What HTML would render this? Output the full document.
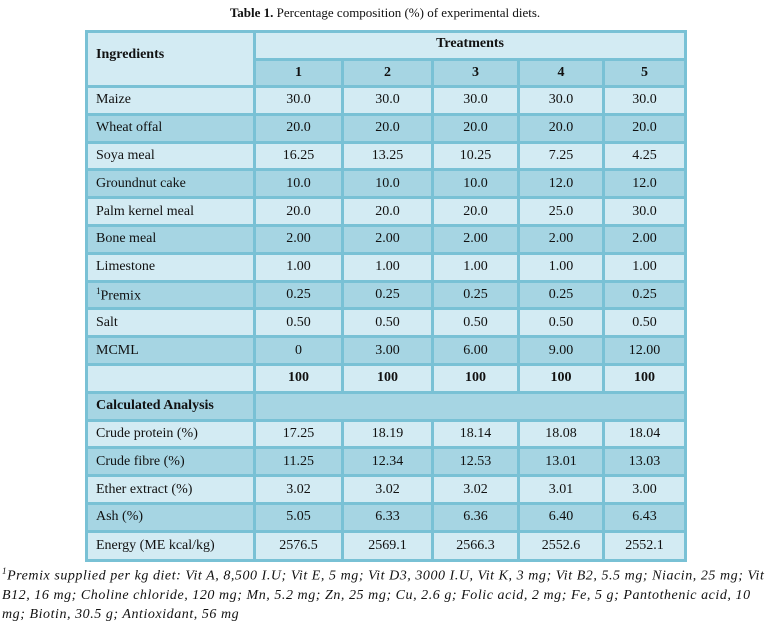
<!DOCTYPE html>
<html><head><meta charset="utf-8"><style>
body{margin:0;width:770px;height:615px;background:#fff;font-family:"Liberation Serif",serif;color:#111;position:relative;overflow:hidden}
.t{position:absolute;top:5px;left:0;width:770px;text-align:center;font-size:13px}
table{position:absolute;left:85px;top:30px;border-collapse:collapse;font-size:14px;table-layout:fixed;width:599px}
td{border:3px solid #79c1d5;padding:0;text-align:center}
tr{height:27.8px}
td.l{text-align:left;padding-left:8px}
tr.a td{background:#d3ebf3}
tr.b td{background:#a6d5e3}
.h{font-weight:bold}
.f{position:absolute;left:2px;top:562px;width:768px;font-style:italic;font-size:14px;line-height:19px;letter-spacing:0.55px}
</style></head><body>
<div class="t"><b>Table 1.</b> Percentage composition (%) of experimental diets.</div>
<table>
<colgroup><col style="width:168px"><col style="width:88px"><col style="width:90px"><col style="width:86px"><col style="width:85px"><col style="width:82px"></colgroup>
<tr class="a" style="height:28px"><td class="l h" rowspan="2" style="background:#d3ebf3;vertical-align:top;padding-top:14px">Ingredients</td><td colspan="5" class="h" style="vertical-align:top;padding-top:3px">Treatments</td></tr>
<tr class="b" style="height:27px"><td class="h">1</td><td class="h">2</td><td class="h">3</td><td class="h">4</td><td class="h">5</td></tr>
<tr class="a"><td class="l">Maize</td><td>30.0</td><td>30.0</td><td>30.0</td><td>30.0</td><td>30.0</td></tr>
<tr class="b"><td class="l">Wheat offal</td><td>20.0</td><td>20.0</td><td>20.0</td><td>20.0</td><td>20.0</td></tr>
<tr class="a"><td class="l">Soya meal</td><td>16.25</td><td>13.25</td><td>10.25</td><td>7.25</td><td>4.25</td></tr>
<tr class="b"><td class="l">Groundnut cake</td><td>10.0</td><td>10.0</td><td>10.0</td><td>12.0</td><td>12.0</td></tr>
<tr class="a"><td class="l">Palm kernel meal</td><td>20.0</td><td>20.0</td><td>20.0</td><td>25.0</td><td>30.0</td></tr>
<tr class="b"><td class="l">Bone meal</td><td>2.00</td><td>2.00</td><td>2.00</td><td>2.00</td><td>2.00</td></tr>
<tr class="a"><td class="l">Limestone</td><td>1.00</td><td>1.00</td><td>1.00</td><td>1.00</td><td>1.00</td></tr>
<tr class="b"><td class="l"><sup style="font-size:9px">1</sup>Premix</td><td>0.25</td><td>0.25</td><td>0.25</td><td>0.25</td><td>0.25</td></tr>
<tr class="a"><td class="l">Salt</td><td>0.50</td><td>0.50</td><td>0.50</td><td>0.50</td><td>0.50</td></tr>
<tr class="b"><td class="l">MCML</td><td>0</td><td>3.00</td><td>6.00</td><td>9.00</td><td>12.00</td></tr>
<tr class="a"><td></td><td class="h">100</td><td class="h">100</td><td class="h">100</td><td class="h">100</td><td class="h">100</td></tr>
<tr class="b"><td class="l h">Calculated Analysis</td><td colspan="5"></td></tr>
<tr class="a"><td class="l">Crude protein (%)</td><td>17.25</td><td>18.19</td><td>18.14</td><td>18.08</td><td>18.04</td></tr>
<tr class="b"><td class="l">Crude fibre (%)</td><td>11.25</td><td>12.34</td><td>12.53</td><td>13.01</td><td>13.03</td></tr>
<tr class="a"><td class="l">Ether extract (%)</td><td>3.02</td><td>3.02</td><td>3.02</td><td>3.01</td><td>3.00</td></tr>
<tr class="b"><td class="l">Ash (%)</td><td>5.05</td><td>6.33</td><td>6.36</td><td>6.40</td><td>6.43</td></tr>
<tr class="a" style="height:29px"><td class="l">Energy (ME kcal/kg)</td><td>2576.5</td><td>2569.1</td><td>2566.3</td><td>2552.6</td><td>2552.1</td></tr>
</table>
<div class="f"><sup style="font-size:9px">1</sup>Premix supplied per kg diet: Vit A, 8,500 I.U; Vit E, 5 mg; Vit D3, 3000 I.U, Vit K, 3 mg; Vit B2, 5.5 mg; Niacin, 25 mg; Vit B12, 16 mg; Choline chloride, 120 mg; Mn, 5.2 mg; Zn, 25 mg; Cu, 2.6 g; Folic acid, 2 mg; Fe, 5 g; Pantothenic acid, 10 mg; Biotin, 30.5 g; Antioxidant, 56 mg</div>
</body></html>
